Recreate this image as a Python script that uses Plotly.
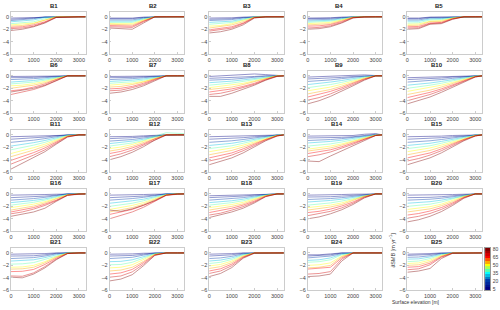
import plotly.graph_objects as go
from plotly.colors import sample_colorscale

ELEV = [0, 500, 1000, 1500, 2000, 2500, 3000, 3300]
LEVELS = [5, 10, 20, 30, 40, 50, 55, 65, 70, 80]
CB_LEVELS = [5, 10, 15, 20, 25, 30, 35, 40, 45, 50, 55, 60, 65, 70, 75, 80]
XTICKS = [0, 1000, 2000, 3000]
YTICKS = [0, -2, -4, -6]
CBTICKS = [5, 20, 35, 50, 65, 80]

B1 = [[-0.2,-0.15,-0.1,0,0,0,0,0],[-0.4,-0.35,-0.2,0,0,0,0,0],[-0.6,-0.5,-0.3,-0.05,0,0,0,0],[-0.8,-0.7,-0.5,-0.1,0,0,0,0],[-1.1,-1.0,-0.8,-0.3,0,0,0,0],[-1.3,-1.2,-1.0,-0.5,0,0,0,0],[-1.5,-1.4,-1.1,-0.6,0,0,0,0],[-1.7,-1.6,-1.3,-0.8,-0.05,0,0,0],[-1.9,-1.8,-1.5,-0.9,-0.1,0,0,0],[-2.2,-2.0,-1.6,-1.0,-0.1,0,0,0]]
B2 = [[-0.2,-0.2,-0.2,-0.05,0,0,0,0],[-0.3,-0.3,-0.3,-0.1,0,0,0,0],[-0.5,-0.5,-0.5,-0.2,0,0,0,0],[-0.7,-0.7,-0.7,-0.3,0,0,0,0],[-0.9,-0.9,-0.9,-0.4,0,0,0,0],[-1.1,-1.1,-1.1,-0.5,0,0,0,0],[-1.2,-1.3,-1.3,-0.6,0,0,0,0],[-1.4,-1.4,-1.5,-0.7,0,0,0,0],[-1.6,-1.7,-1.7,-0.8,0,0,0,0],[-1.8,-1.9,-2.0,-1.0,0,0,0,0]]
B3 = [[-0.2,-0.2,-0.15,-0.05,0,0,0,0],[-0.4,-0.35,-0.3,-0.1,0,0,0,0],[-0.6,-0.55,-0.45,-0.2,0,0,0,0],[-0.9,-0.8,-0.7,-0.35,0,0,0,0],[-1.2,-1.1,-0.9,-0.5,-0.05,0,0,0],[-1.5,-1.4,-1.1,-0.6,-0.05,0,0,0],[-1.8,-1.6,-1.3,-0.8,-0.1,0,0,0],[-2.1,-1.9,-1.6,-1.0,-0.1,0,0,0],[-2.3,-2.1,-1.8,-1.1,-0.15,0,0,0],[-2.6,-2.4,-2.0,-1.3,-0.2,0,0,0]]
B4 = [[-0.2,-0.2,-0.15,-0.05,0,0,0,0],[-0.3,-0.3,-0.25,-0.1,0,0,0,0],[-0.5,-0.45,-0.4,-0.2,0,0,0,0],[-0.7,-0.65,-0.55,-0.3,0,0,0,0],[-0.9,-0.85,-0.7,-0.4,-0.05,0,0,0],[-1.1,-1.05,-0.9,-0.5,-0.05,0,0,0],[-1.3,-1.25,-1.1,-0.6,-0.1,0,0,0],[-1.5,-1.45,-1.25,-0.75,-0.1,0,0,0],[-1.8,-1.7,-1.45,-0.9,-0.15,0,0,0],[-2.0,-1.9,-1.6,-1.0,-0.2,0,0,0]]
B5 = [[-0.2,-0.2,-0.05,-0.05,0,0,0,0],[-0.3,-0.3,-0.1,-0.1,0,0,0,0],[-0.5,-0.5,-0.2,-0.2,-0.05,0,0,0],[-0.7,-0.7,-0.35,-0.3,-0.1,0,0,0],[-1.0,-0.95,-0.5,-0.45,-0.15,0,0,0],[-1.2,-1.15,-0.7,-0.6,-0.2,0,0,0],[-1.4,-1.35,-0.8,-0.75,-0.25,0,0,0],[-1.6,-1.55,-1.0,-0.9,-0.3,0,0,0],[-1.8,-1.75,-1.1,-1.0,-0.35,0,0,0],[-2.0,-1.9,-1.2,-1.1,-0.4,0,0,0]]
B6 = [[-0.1,-0.1,-0.1,-0.05,0,0,0,0],[-0.3,-0.3,-0.25,-0.15,-0.05,0,0,0],[-0.6,-0.55,-0.45,-0.3,-0.1,0,0,0],[-1.0,-0.9,-0.75,-0.5,-0.2,0,0,0],[-1.3,-1.2,-1.0,-0.7,-0.3,0,0,0],[-1.6,-1.5,-1.25,-0.9,-0.4,0,0,0],[-2.0,-1.8,-1.5,-1.1,-0.5,0,0,0],[-2.4,-2.2,-1.8,-1.3,-0.6,0,0,0],[-3.0,-2.6,-2.2,-1.6,-0.8,0,0,0],[-2.6,-2.3,-2.0,-1.5,-0.7,0,0,0]]
B7 = [[-0.1,-0.1,-0.1,-0.05,0,0,0,0],[-0.3,-0.3,-0.25,-0.15,-0.05,0,0,0],[-0.6,-0.55,-0.45,-0.3,-0.1,0,0,0],[-0.9,-0.85,-0.7,-0.5,-0.2,0,0,0],[-1.2,-1.1,-0.95,-0.7,-0.3,0,0,0],[-1.5,-1.4,-1.2,-0.9,-0.4,0,0,0],[-1.8,-1.7,-1.4,-1.0,-0.45,0,0,0],[-2.1,-2.0,-1.7,-1.2,-0.55,0,0,0],[-2.4,-2.3,-1.9,-1.4,-0.65,0,0,0],[-2.8,-2.6,-2.2,-1.6,-0.8,0,0,0]]
B8 = [[-0.1,0.0,0.1,0.2,0.3,0.2,0.05,0],[-0.4,-0.35,-0.3,-0.2,-0.1,0,0,0],[-0.7,-0.65,-0.55,-0.4,-0.2,-0.05,0,0],[-1.1,-1.0,-0.85,-0.65,-0.4,-0.15,0,0],[-1.5,-1.35,-1.15,-0.9,-0.6,-0.25,0,0],[-1.9,-1.7,-1.5,-1.2,-0.8,-0.35,0,0],[-2.2,-2.0,-1.8,-1.4,-0.95,-0.45,0,0],[-2.6,-2.4,-2.1,-1.7,-1.2,-0.55,-0.05,0],[-3.0,-2.8,-2.4,-1.9,-1.35,-0.65,-0.05,0],[-3.3,-3.3,-2.8,-2.2,-1.5,-0.7,-0.1,0]]
B9 = [[-0.2,-0.15,-0.1,0,0.1,0.15,0.05,0],[-0.5,-0.45,-0.35,-0.25,-0.1,0,0,0],[-0.9,-0.8,-0.65,-0.45,-0.25,-0.05,0,0],[-1.4,-1.25,-1.0,-0.75,-0.45,-0.15,0,0],[-1.9,-1.7,-1.4,-1.05,-0.65,-0.25,0,0],[-2.4,-2.15,-1.8,-1.35,-0.85,-0.35,0,0],[-2.9,-2.6,-2.2,-1.65,-1.05,-0.45,0,0],[-3.4,-3.0,-2.5,-1.9,-1.2,-0.5,0,0],[-3.9,-3.5,-2.9,-2.2,-1.4,-0.6,0,0],[-4.5,-4.0,-3.3,-2.5,-1.6,-0.7,0,0]]
B10 = [[-0.3,-0.25,-0.2,-0.1,0,0,0,0],[-0.6,-0.55,-0.45,-0.35,-0.2,-0.1,0,0],[-1.0,-0.9,-0.75,-0.6,-0.4,-0.2,0,0],[-1.5,-1.35,-1.15,-0.9,-0.6,-0.3,-0.05,0],[-2.0,-1.8,-1.5,-1.2,-0.85,-0.45,-0.05,0],[-2.5,-2.2,-1.9,-1.5,-1.05,-0.55,-0.1,0],[-3.0,-2.7,-2.3,-1.8,-1.25,-0.65,-0.1,0],[-3.5,-3.1,-2.65,-2.1,-1.45,-0.75,-0.15,0],[-4.0,-3.55,-3.0,-2.35,-1.65,-0.85,-0.15,0],[-4.5,-4.0,-3.4,-2.65,-1.85,-0.95,-0.2,0]]
B11 = [[-0.3,-0.25,-0.2,-0.1,0,0,0,0],[-0.7,-0.6,-0.5,-0.35,-0.15,0,0,0],[-1.2,-1.05,-0.85,-0.6,-0.3,0,0,0],[-1.8,-1.55,-1.25,-0.9,-0.45,-0.05,0,0],[-2.4,-2.05,-1.65,-1.2,-0.65,-0.1,0,0],[-3.0,-2.55,-2.05,-1.5,-0.85,-0.15,0,0],[-3.5,-3.0,-2.45,-1.8,-1.0,-0.2,0,0],[-4.1,-3.5,-2.85,-2.1,-1.2,-0.25,0,0],[-4.7,-4.0,-3.25,-2.4,-1.35,-0.3,0,0],[-5.5,-4.6,-3.7,-2.7,-1.5,-0.35,0,0]]
B12 = [[-0.3,-0.3,-0.25,-0.15,-0.05,0,0,0],[-0.6,-0.55,-0.45,-0.3,-0.15,0,0,0],[-1.0,-0.9,-0.75,-0.5,-0.25,0,0,0],[-1.4,-1.25,-1.0,-0.7,-0.35,0,0,0],[-1.8,-1.6,-1.3,-0.9,-0.2,0.35,0.3,0.2],[-2.2,-1.95,-1.55,-1.05,-0.45,0.05,0,0],[-2.6,-2.3,-1.85,-1.25,-0.55,0,0,0],[-3.0,-2.65,-2.1,-1.45,-0.65,0,0,0],[-3.5,-3.05,-2.45,-1.65,-0.75,0,0,0],[-4.0,-3.5,-2.8,-1.9,-0.85,-0.05,0,0]]
B13 = [[-0.3,-0.25,-0.2,-0.15,-0.1,-0.05,0,0],[-0.7,-0.65,-0.55,-0.45,-0.3,-0.15,0,0],[-1.2,-1.1,-0.95,-0.75,-0.5,-0.25,0,0],[-1.7,-1.55,-1.35,-1.05,-0.7,-0.35,-0.05,0],[-2.2,-2.0,-1.75,-1.35,-0.9,-0.45,-0.05,0],[-2.7,-2.45,-2.1,-1.65,-1.1,-0.55,-0.1,0],[-3.2,-2.9,-2.5,-1.95,-1.3,-0.65,-0.1,0],[-3.7,-3.35,-2.9,-2.25,-1.5,-0.75,-0.15,0],[-4.2,-3.8,-3.25,-2.55,-1.7,-0.85,-0.15,0],[-4.8,-4.3,-3.7,-2.9,-1.95,-0.95,-0.2,0]]
B14 = [[-0.2,-0.2,-0.2,-0.15,-0.1,0.1,0.2,0],[-0.5,-0.5,-0.45,-0.4,-0.3,-0.15,0.1,0],[-0.9,-0.85,-0.75,-0.6,-0.45,-0.2,0,0],[-1.3,-1.2,-1.05,-0.85,-0.6,-0.3,0,0],[-1.8,-1.65,-1.45,-1.15,-0.8,-0.4,-0.05,0],[-2.3,-2.1,-1.8,-1.45,-1.0,-0.5,-0.05,0],[-2.6,-2.4,-2.1,-1.65,-1.15,-0.55,-0.05,0],[-3.0,-2.75,-2.4,-1.9,-1.3,-0.65,-0.1,0],[-3.5,-3.2,-2.75,-2.15,-1.5,-0.75,-0.1,0],[-4.2,-4.3,-3.4,-2.6,-1.8,-0.9,-0.1,0]]
B15 = [[-0.3,-0.3,-0.25,-0.2,-0.1,-0.05,0,0],[-0.7,-0.65,-0.55,-0.45,-0.3,-0.15,0,0],[-1.2,-1.1,-0.95,-0.75,-0.5,-0.25,0,0],[-1.7,-1.55,-1.35,-1.05,-0.7,-0.35,-0.05,0],[-2.2,-2.0,-1.75,-1.35,-0.9,-0.45,-0.05,0],[-2.7,-2.45,-2.1,-1.65,-1.1,-0.55,-0.1,0],[-3.2,-2.9,-2.5,-1.95,-1.3,-0.65,-0.1,0],[-3.7,-3.35,-2.9,-2.25,-1.5,-0.75,-0.15,0],[-4.2,-3.8,-3.25,-2.55,-1.7,-0.85,-0.15,0],[-4.8,-4.3,-3.7,-2.9,-1.95,-0.95,-0.2,0]]
B16 = [[-0.2,-0.2,-0.15,-0.1,-0.05,0,0,0],[-0.6,-0.55,-0.45,-0.35,-0.2,0,0,0],[-1.0,-0.9,-0.75,-0.55,-0.3,0,0,0],[-1.4,-1.25,-1.05,-0.8,-0.45,-0.05,0,0],[-1.8,-1.6,-1.35,-1.0,-0.6,-0.1,0,0],[-2.2,-1.95,-1.65,-1.25,-0.75,-0.15,0,0],[-2.6,-2.3,-1.95,-1.45,-0.85,-0.15,0,0],[-2.9,-2.6,-2.2,-1.65,-1.0,-0.2,0,0],[-3.2,-2.9,-2.45,-1.85,-1.1,-0.2,0,0],[-3.6,-3.2,-2.9,-2.3,-1.2,-0.25,0,0]]
B17 = [[-0.2,-0.2,-0.15,-0.1,-0.05,0,0,0],[-0.6,-0.55,-0.45,-0.35,-0.2,0,0,0],[-1.0,-0.9,-0.75,-0.55,-0.3,0,0,0],[-1.5,-1.35,-1.1,-0.85,-0.5,-0.05,0,0],[-2.0,-1.8,-1.5,-1.1,-0.65,-0.1,0,0],[-2.5,-2.2,-1.85,-1.4,-0.8,-0.15,0,0],[-2.9,-2.6,-2.2,-1.65,-0.95,-0.15,0,0],[-3.3,-2.95,-2.5,-1.85,-1.1,-0.2,0,0],[-4.0,-3.5,-2.9,-2.15,-1.25,-0.25,0,0],[-2.6,-2.8,-2.4,-1.8,-1.05,-0.2,0,0]]
B18 = [[-0.3,-0.25,-0.2,-0.15,-0.05,0,0,0],[-0.6,-0.55,-0.45,-0.35,-0.2,-0.05,0,0],[-1.0,-0.9,-0.75,-0.6,-0.35,-0.1,0,0],[-1.4,-1.3,-1.1,-0.85,-0.55,-0.15,0,0],[-1.8,-1.65,-1.4,-1.1,-0.7,-0.2,0,0],[-2.2,-2.0,-1.7,-1.35,-0.85,-0.25,0,0],[-2.6,-2.35,-2.0,-1.6,-1.0,-0.3,0,0],[-3.0,-2.7,-2.3,-1.8,-1.15,-0.35,0,0],[-3.4,-3.1,-2.6,-2.05,-1.3,-0.4,0,0],[-3.8,-3.4,-2.9,-2.3,-1.45,-0.45,0,0]]
B19 = [[-0.2,-0.2,-0.15,-0.1,-0.05,0,0,0],[-0.5,-0.5,-0.45,-0.35,-0.2,-0.05,0,0],[-0.9,-0.85,-0.75,-0.6,-0.4,-0.15,0,0],[-1.3,-1.2,-1.05,-0.85,-0.55,-0.2,0,0],[-1.8,-1.65,-1.45,-1.15,-0.75,-0.3,0,0],[-2.2,-2.05,-1.8,-1.45,-0.95,-0.35,0,0],[-2.6,-2.4,-2.1,-1.7,-1.1,-0.4,0,0],[-3.0,-2.8,-2.45,-1.95,-1.3,-0.5,0,0],[-3.5,-3.2,-2.8,-2.25,-1.5,-0.55,0,0],[-4.0,-3.7,-3.2,-2.55,-1.7,-0.65,0,0]]
B20 = [[-0.2,-0.2,-0.2,-0.15,-0.1,-0.05,0,0],[-0.6,-0.6,-0.55,-0.45,-0.3,-0.1,0,0],[-1.0,-0.95,-0.85,-0.7,-0.45,-0.15,0,0],[-1.5,-1.4,-1.25,-1.0,-0.65,-0.25,0,0],[-2.0,-1.85,-1.65,-1.3,-0.85,-0.3,0,0],[-2.5,-2.3,-2.05,-1.65,-1.05,-0.4,0,0],[-2.9,-2.7,-2.4,-1.9,-1.25,-0.45,0,0],[-3.4,-3.15,-2.75,-2.2,-1.45,-0.55,0,0],[-3.9,-3.6,-3.15,-2.5,-1.65,-0.6,0,0],[-4.5,-4.15,-3.6,-2.85,-1.85,-0.7,0,0]]
B21 = [[-0.2,-0.2,-0.15,-0.1,0,0,0,0],[-0.5,-0.5,-0.45,-0.3,-0.05,0,0,0],[-0.9,-0.85,-0.75,-0.5,-0.15,0,0,0],[-1.3,-1.25,-1.1,-0.75,-0.3,0,0,0],[-1.8,-1.75,-1.55,-1.05,-0.45,0,0,0],[-2.3,-2.25,-2.0,-1.4,-0.6,-0.05,0,0],[-2.6,-2.55,-2.3,-1.6,-0.7,-0.05,0,0],[-3.0,-2.95,-2.65,-1.85,-0.85,-0.05,0,0],[-3.7,-3.75,-3.2,-2.2,-1.0,-0.1,0,0],[-3.9,-4.0,-3.4,-2.4,-1.1,-0.1,0,0]]
B22 = [[-0.2,-0.2,-0.15,-0.05,0,0,0,0],[-0.5,-0.5,-0.4,-0.2,0,0,0,0],[-0.9,-0.85,-0.7,-0.35,-0.05,0,0,0],[-1.4,-1.35,-1.1,-0.6,-0.1,0,0,0],[-1.9,-1.85,-1.5,-0.85,-0.15,0,0,0],[-2.4,-2.3,-1.9,-1.1,-0.2,0,0,0],[-2.9,-2.75,-2.3,-1.35,-0.25,0,0,0],[-3.4,-3.2,-2.65,-1.55,-0.3,0,0,0],[-3.9,-3.7,-3.05,-1.8,-0.35,0,0,0],[-4.5,-4.2,-3.5,-2.05,-0.4,0,0,0]]
B23 = [[-0.2,-0.2,-0.1,0,0,0,0,0],[-0.5,-0.45,-0.3,-0.05,0,0,0,0],[-0.9,-0.8,-0.55,-0.15,0,0,0,0],[-1.3,-1.15,-0.8,-0.25,0,0,0,0],[-1.7,-1.5,-1.05,-0.35,0,0,0,0],[-2.1,-1.85,-1.3,-0.45,0,0,0,0],[-2.5,-2.2,-1.55,-0.55,0,0,0,0],[-2.9,-2.55,-1.8,-0.65,0,0,0,0],[-3.3,-2.9,-2.05,-0.75,0,0,0,0],[-3.8,-3.3,-2.35,-0.85,-0.05,0,0,0]]
B24 = [[-0.3,-0.3,-0.15,0,0,0,0,0],[-0.5,-0.45,-0.3,0,0,0,0,0],[-0.8,-0.7,-0.5,-0.1,0,0,0,0],[-1.2,-1.1,-0.8,-0.2,0,0,0,0],[-1.5,-1.4,-1.1,-0.3,0,0,0,0],[-2.0,-1.9,-1.6,-0.5,0,0,0,0],[-2.4,-2.3,-2.0,-0.6,0,0,0,0],[-2.6,-2.5,-2.3,-0.8,0,0,0,0],[-3.4,-3.3,-3.0,-1.0,0,0,0,0],[-3.8,-3.7,-3.4,-1.3,0,0,0,0]]
B25 = [[-0.2,-0.2,-0.1,0,0,0,0,0],[-0.4,-0.35,-0.25,-0.05,0,0,0,0],[-0.7,-0.65,-0.45,-0.1,0,0,0,0],[-1.0,-0.95,-0.65,-0.2,0,0,0,0],[-1.4,-1.3,-0.9,-0.3,0,0,0,0],[-1.7,-1.6,-1.15,-0.4,0,0,0,0],[-2.0,-1.9,-1.4,-0.5,0,0,0,0],[-2.3,-2.2,-1.65,-0.6,0,0,0,0],[-2.7,-2.55,-1.9,-0.7,-0.05,0,0,0],[-3.1,-2.9,-2.5,-0.9,-0.05,0,0,0]]

PANELS = [B1, B2, B3, B4, B5, B6, B7, B8, B9, B10, B11, B12, B13, B14, B15,
          B16, B17, B18, B19, B20, B21, B22, B23, B24, B25]
NAMES = ["B%d" % (i + 1) for i in range(25)]

W, H = 500, 310
COL_LEFT = [9, 108, 208, 307, 407]
ROW_TOP = [10, 70, 130, 190, 250]
PW, PH = 75, 43
FONT = "Liberation Sans"

CMIN, CMAX = 2.5, 82.5
NB = 16
base = sample_colorscale('Jet', [i / (NB - 1) for i in range(NB)])
disc = []
for i, c in enumerate(base):
    disc.append([i / NB, c])
    disc.append([(i + 1) / NB, c])


def lvl_color(v):
    idx = int((v - CMIN) / (CMAX - CMIN) * NB)
    idx = max(0, min(NB - 1, idx))
    return base[idx]


fig = go.Figure()
annotations = []
for i, (name, lines) in enumerate(zip(NAMES, PANELS)):
    r, c = divmod(i, 5)
    ax = "" if i == 0 else str(i + 1)
    x0 = COL_LEFT[c] / W
    x1 = (COL_LEFT[c] + PW) / W
    y1 = 1 - ROW_TOP[r] / H
    y0 = 1 - (ROW_TOP[r] + PH) / H
    for lv, ys in zip(LEVELS, lines):
        fig.add_trace(go.Scatter(x=ELEV, y=ys, mode="lines",
                                 line=dict(color=lvl_color(lv), width=0.7),
                                 opacity=0.6, showlegend=False, hoverinfo="skip",
                                 xaxis="x" + ax, yaxis="y" + ax))
    axstyle = dict(showline=True, mirror=True, linecolor="#cccccc", linewidth=0.6,
                   ticks="inside", ticklen=2, tickcolor="#cccccc",
                   tickfont=dict(size=5.5, color="#444", family=FONT),
                   showgrid=False, zeroline=False)
    fig.layout["xaxis" + ax] = dict(domain=[x0, x1], range=[0, 3300], tickvals=XTICKS,
                                    anchor="y" + ax, **axstyle)
    fig.layout["yaxis" + ax] = dict(domain=[y0, y1], range=[-6, 0.8], tickvals=YTICKS,
                                    anchor="x" + ax, **axstyle)
    annotations.append(dict(text="<b>%s</b>" % name, x=(x0 + x1) / 2, y=y1, xref="paper",
                            yref="paper", yanchor="bottom", yshift=1, showarrow=False,
                            font=dict(size=6, color="#222", family=FONT)))

# colour bar drawn as a one-column heatmap on its own small axes
cb_x0, cb_x1 = 485 / W, 490 / W
cb_y1 = 1 - ROW_TOP[4] / H
cb_y0 = 1 - (ROW_TOP[4] + PH) / H
fig.add_trace(go.Heatmap(x=[0], y=CB_LEVELS, z=[[v] for v in CB_LEVELS],
                         colorscale=disc, zmin=CMIN, zmax=CMAX, showscale=False,
                         hoverinfo="skip", xaxis="x26", yaxis="y26"))
fig.layout["xaxis26"] = dict(domain=[cb_x0, cb_x1], anchor="y26", range=[-0.5, 0.5],
                             showticklabels=False, ticks="", showline=True, mirror=True,
                             linecolor="#999", linewidth=0.5, showgrid=False, zeroline=False)
fig.layout["yaxis26"] = dict(domain=[cb_y0, cb_y1], anchor="x26", range=[CMIN, CMAX],
                             side="right", tickvals=CBTICKS, ticks="", showline=True,
                             mirror=True, linecolor="#999", linewidth=0.5, showgrid=False,
                             zeroline=False, ticklabelstandoff=1,
                             tickfont=dict(size=5, color="#444", family=FONT))

annotations.append(dict(text="∂SMB [m yr<sup>−1</sup>]", x=397 / W, y=1 - 272 / H,
                        xref="paper", yref="paper", textangle=-90, showarrow=False,
                        font=dict(size=5.5, color="#333", family=FONT)))
annotations.append(dict(text="Surface elevation [m]", x=442 / W, y=1 - 305 / H,
                        xref="paper", yref="paper", showarrow=False, yanchor="middle",
                        font=dict(size=5, color="#333", family=FONT)))

fig.update_layout(width=W, height=H, margin=dict(l=0, r=0, t=0, b=0),
                  paper_bgcolor="white", plot_bgcolor="white", annotations=annotations)
fig.write_html("out.html", config={"displayModeBar": False},
               post_script="document.body.style.margin='0';document.body.style.overflow='hidden';")
